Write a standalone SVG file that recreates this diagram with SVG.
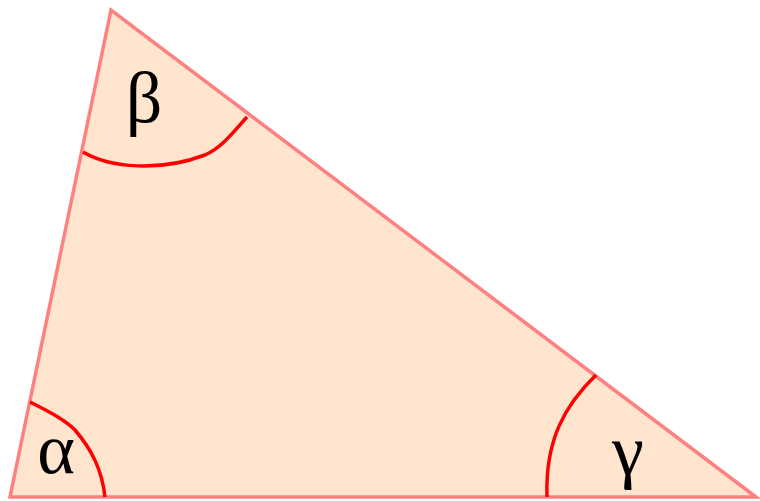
<svg xmlns="http://www.w3.org/2000/svg" width="760" height="501" viewBox="0 0 760 501">
<style>
.tri{fill:#FFE5CE;stroke:#FF8080;stroke-width:3.5;stroke-linejoin:miter}
.arc{fill:none;stroke:#FF0000;stroke-width:3.5}
.lbl{font-family:"Liberation Serif","Times New Roman","DejaVu Serif",serif;font-size:72px;fill:#000;text-anchor:middle}
</style>
<rect width="760" height="501" fill="#FFFFFF"/>
<g id="triangle">
<polygon class="tri" points="111,10 10,497 756,497"/>
</g>
<g id="connectors">
<path class="arc" d="M30,402 C50,412 65,420 75,430 C92,450 102,470 105,497"/>
<path class="arc" d="M83,152 C110,168 160,172 205,155 C222,148 235,130 247,117"/>
<path class="arc" d="M596,375 C565,405 545,440 547,497"/>
</g>
<g id="alpha"><text class="lbl" x="56" y="473">α</text></g>
<g id="beta"><text class="lbl" x="144" y="122">β</text></g>
<g id="gamma"><text class="lbl" x="628" y="475">γ</text></g>
</svg>
